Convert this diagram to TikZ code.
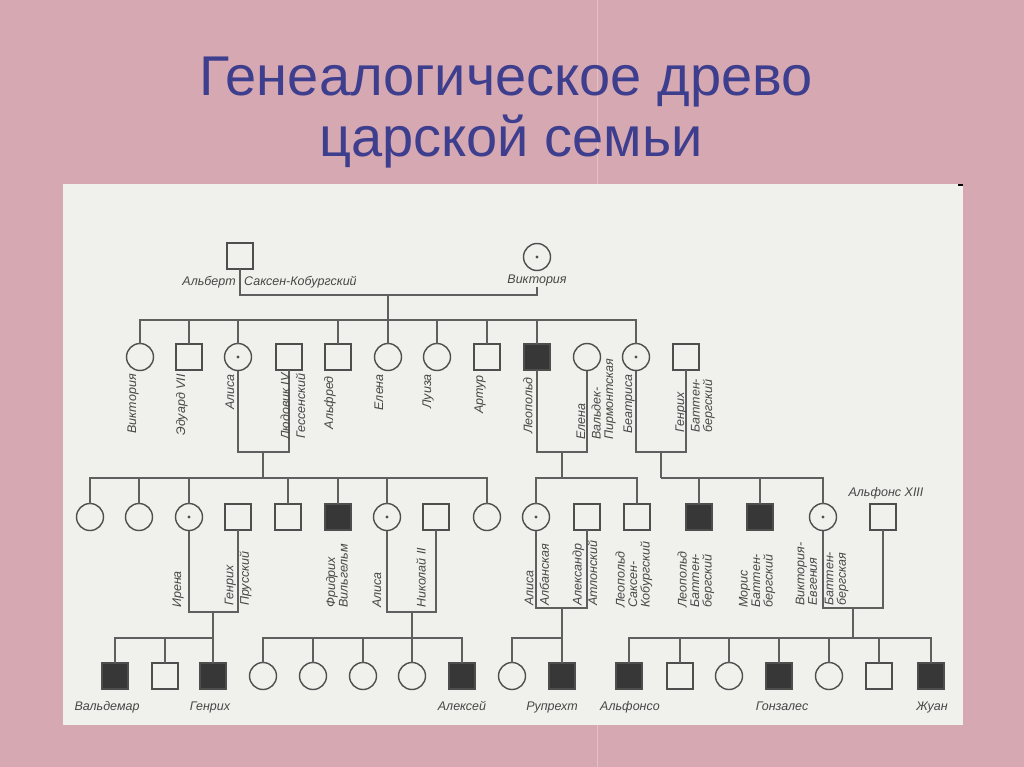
\documentclass[tikz,border=0pt]{standalone}
\usepackage{fontspec}
\setmainfont{Liberation Sans}
\definecolor{pinkbg}{RGB}{214,168,177}
\definecolor{panel}{RGB}{240,240,237}
\definecolor{titlec}{RGB}{62,62,142}
\definecolor{linec}{RGB}{95,95,95}
\definecolor{symc}{RGB}{78,78,78}
\definecolor{affc}{RGB}{55,55,55}
\definecolor{labc}{RGB}{70,70,70}
\begin{document}
\begin{tikzpicture}[x=1pt,y=-1pt,
  ln/.style={draw=linec, line width=1.1pt},
  sym/.style={draw=symc, line width=1.4pt, fill=panel, inner sep=0pt, outer sep=0pt},
  male/.style={sym, rectangle, minimum size=26pt},
  fem/.style={sym, circle, minimum size=27pt},
  car/.style={fem, path picture={\fill[symc] (path picture bounding box.center) circle (1.7pt);}},
  aff/.style={male, fill=affc},
  lab/.style={font=\fontsize{12.5}{12.5}\selectfont\itshape, text=labc, inner sep=0pt},
  vlab/.style={lab, rotate=90},
  vtop/.style={vlab, anchor=east, align=right},
  vbot/.style={vlab, anchor=west, align=left},
  title/.style={font=\fontsize{56}{60}\selectfont, text=titlec, inner sep=0pt, anchor=base}
]
\useasboundingbox (0,0) rectangle (1024,767);
\fill[pinkbg] (0,0) rectangle (1024,767);
\draw[white, opacity=0.3, line width=1pt] (597,0) -- (597,767);
\fill[panel] (63,184) rectangle (963,725);
\draw[black, line width=1.5pt] (958,185) -- (963,185);

% title
\node[title] (t1) at (506,96) {Генеалогическое древо};
\node[title] (t2) at (511,157) {царской семьи};

% generation 1
\node[male] (alb) at (240,256) {};
\node[car] (vic) at (537,257) {};
\node[lab, anchor=base east] (albl1) at (236,285) {Альберт};
\node[lab, anchor=base west] (albl2) at (244,285) {Саксен-Кобургский};
\node[lab, anchor=north] (vicl) at (537,275) {Виктория};
\coordinate (j1) at (388,295);
\coordinate (s1) at (388,320);
\draw[ln] (alb.south) |- (j1) -| (vicl.south);
\draw[ln] (j1) -- (s1);

% generation 2
\node[fem]  (g2a) at (140,357) {};
\node[male] (g2b) at (189,357) {};
\node[car]  (g2c) at (238,357) {};
\node[male] (g2d) at (289,357) {};
\node[male] (g2e) at (338,357) {};
\node[fem]  (g2f) at (388,357) {};
\node[fem]  (g2g) at (437,357) {};
\node[male] (g2h) at (487,357) {};
\node[aff]  (g2i) at (537,357) {};
\node[fem]  (g2j) at (587,357) {};
\node[car]  (g2k) at (636,357) {};
\node[male] (g2l) at (686,357) {};
\draw[ln] (g2a.north) |- (s1) -| (g2k.north);
\foreach \n in {g2b,g2c,g2e,g2f,g2g,g2h,g2i} \draw[ln] (\n.north) -- (\n.north |- s1);

\coordinate (j2) at (263,452); \coordinate (s2) at (263,478);
\coordinate (j3) at (562,452); \coordinate (s3) at (562,478);
\coordinate (j4) at (661,452); \coordinate (s4) at (661,478);
\draw[ln] (g2c.south) |- (j2) -| (g2d.south);
\draw[ln] (j2) -- (s2);
\draw[ln] (g2i.south) |- (j3) -| (g2j.south);
\draw[ln] (j3) -- (s3);
\draw[ln] (g2k.south) |- (j4) -| (g2l.south);
\draw[ln] (j4) -- (s4);

\node[vtop] (l2a) at (133,374) {Виктория};
\node[vtop] (l2b) at (182,374) {Эдуард VII};
\node[vtop] (l2c) at (230,374) {Алиса};
\node[vtop] (l2d) at (293,373) {Людовик IV\\[3pt]Гессенский};
\node[vtop] (l2e) at (330,376) {Альфред};
\node[vtop] (l2f) at (379,374) {Елена};
\node[vtop] (l2g) at (428,374) {Луиза};
\node[vtop] (l2h) at (480,375) {Артур};
\node[vtop] (l2i) at (528,377) {Леопольд};
\node[vbot] (l2j) at (596,440) {Елена\\[3pt]Вальдек-\\Пирмонтская};
\node[vtop] (l2k) at (629,374) {Беатриса};
\node[vbot] (l2l) at (695,433) {Генрих\\[3pt]Баттен-\\бергский};

% generation 3
\node[fem]  (g3a) at (90,517) {};
\node[fem]  (g3b) at (139,517) {};
\node[car]  (g3c) at (189,517) {};
\node[male] (g3d) at (238,517) {};
\node[male] (g3e) at (288,517) {};
\node[aff]  (g3f) at (338,517) {};
\node[car]  (g3g) at (387,517) {};
\node[male] (g3h) at (436,517) {};
\node[fem]  (g3i) at (487,517) {};
\node[car]  (g3j) at (536,517) {};
\node[male] (g3k) at (587,517) {};
\node[male] (g3l) at (637,517) {};
\node[aff]  (g3m) at (699,517) {};
\node[aff]  (g3n) at (760,517) {};
\node[car]  (g3o) at (823,517) {};
\node[male] (g3p) at (883,517) {};
\node[lab, anchor=base] (alfl) at (886,496) {Альфонс XIII};

\draw[ln] (g3a.north) |- (s2) -| (g3i.north);
\foreach \n in {g3b,g3c,g3e,g3f,g3g} \draw[ln] (\n.north) -- (\n.north |- s2);
\draw[ln] (g3j.north) |- (s3) -| (g3l.north);
\draw[ln] (s4) -| (g3o.north);
\foreach \n in {g3m,g3n} \draw[ln] (\n.north) -- (\n.north |- s4);

\coordinate (j5) at (213,612); \coordinate (s5) at (213,638);
\coordinate (j6) at (412,612); \coordinate (s6) at (412,638);
\coordinate (j7) at (562,608); \coordinate (s7) at (562,638);
\coordinate (j8) at (853,608); \coordinate (s8) at (853,638);
\draw[ln] (g3c.south) |- (j5) -| (g3d.south);
\draw[ln] (g3g.south) |- (j6) -| (g3h.south);
\draw[ln] (g3j.south) |- (j7) -| (g3k.south);
\draw[ln] (g3o.south) |- (j8) -| (g3p.south);

\node[vbot] (l3c) at (178,608) {Ирена};
\node[vbot] (l3d) at (238,606) {Генрих\\[3pt]Прусский};
\node[vbot] (l3f) at (337,608) {Фридрих\\Вильгельм};
\node[vbot] (l3g) at (377,608) {Алиса};
\node[vbot] (l3h) at (421,608) {Николай II};
\node[vbot] (l3j) at (537,606) {Алиса\\[3pt]Албанская};
\node[vbot] (l3k) at (585,606) {Александр\\[3pt]Атлонский};
\node[vbot] (l3l) at (634,608) {Леопольд\\Саксен-\\Кобургский};
\node[vbot] (l3m) at (696,608) {Леопольд\\Баттен-\\бергский};
\node[vbot] (l3n) at (757,608) {Морис\\Баттен-\\бергский};
\node[vbot] (l3o) at (822,606) {Виктория-\\Евгения\\[4pt]Баттен-\\бергская};

% generation 4
\node[aff]  (g4a) at (115,676) {};
\node[male] (g4b) at (165,676) {};
\node[aff]  (g4c) at (213,676) {};
\node[fem]  (g4d) at (263,676) {};
\node[fem]  (g4e) at (313,676) {};
\node[fem]  (g4f) at (363,676) {};
\node[fem]  (g4g) at (412,676) {};
\node[aff]  (g4h) at (462,676) {};
\node[fem]  (g4i) at (512,676) {};
\node[aff]  (g4j) at (562,676) {};
\node[aff]  (g4k) at (629,676) {};
\node[male] (g4l) at (680,676) {};
\node[fem]  (g4m) at (729,676) {};
\node[aff]  (g4n) at (779,676) {};
\node[fem]  (g4o) at (829,676) {};
\node[male] (g4p) at (879,676) {};
\node[aff]  (g4q) at (931,676) {};

\draw[ln] (j5) -- (s5);
\draw[ln] (g4a.north) |- (s5) -- (g4c.north);
\draw[ln] (g4b.north) -- (g4b.north |- s5);
\draw[ln] (j6) -- (s6);
\draw[ln] (g4d.north) |- (s6) -| (g4h.north);
\foreach \n in {g4e,g4f,g4g} \draw[ln] (\n.north) -- (\n.north |- s6);
\draw[ln] (j7) -- (s7);
\draw[ln] (g4i.north) |- (s7) -- (g4j.north);
\draw[ln] (j8) -- (s8);
\draw[ln] (g4k.north) |- (s8) -| (g4q.north);
\foreach \n in {g4l,g4m,g4n,g4o,g4p} \draw[ln] (\n.north) -- (\n.north |- s8);

\node[lab, anchor=base] (l4a) at (107,710) {Вальдемар};
\node[lab, anchor=base] (l4c) at (210,710) {Генрих};
\node[lab, anchor=base] (l4h) at (462,710) {Алексей};
\node[lab, anchor=base] (l4j) at (552,710) {Рупрехт};
\node[lab, anchor=base] (l4k) at (630,710) {Альфонсо};
\node[lab, anchor=base] (l4n) at (782,710) {Гонзалес};
\node[lab, anchor=base] (l4q) at (932,710) {Жуан};
\end{tikzpicture}
\end{document}
